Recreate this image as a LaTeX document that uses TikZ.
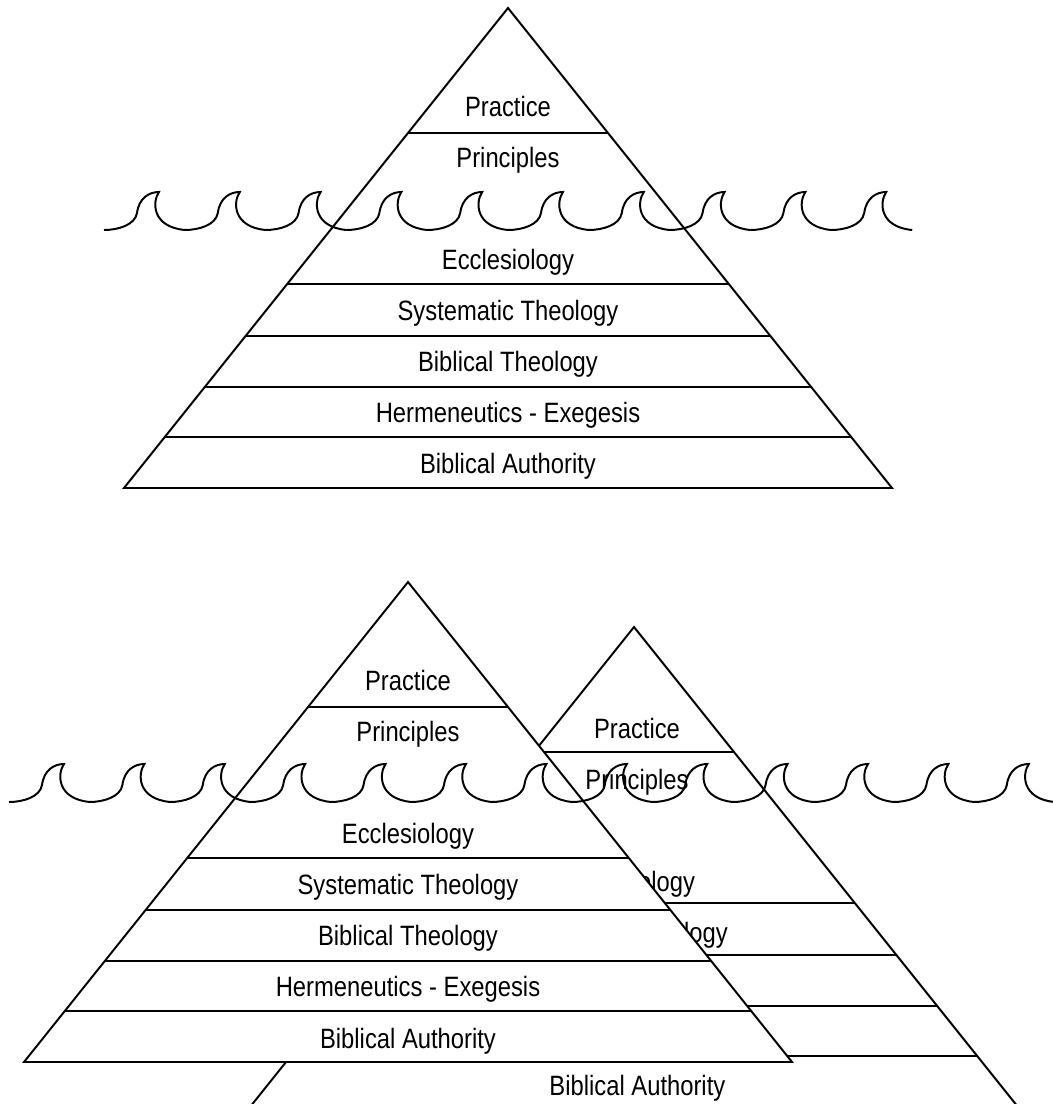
\documentclass[tikz,border=0pt]{standalone}
\usepackage{fontspec}
\setmainfont{Liberation Sans}[FakeStretch=0.85]
\usetikzlibrary{positioning}

\begin{document}
\begin{tikzpicture}[
		x=0.025cm, y=-0.025cm,
		line width=1.4pt,
		node distance=0.775cm,
		layer/.style={font=\fontsize{19.9}{24}\selectfont, inner sep=0pt, outer sep=0pt, text height=0.5cm, text depth=0pt},
		pyramid/.pic={
			\filldraw[fill=white] (0,0) -- (384,480) -- (-384,480) -- cycle;
			\draw (-100,125) -- (100,125);
			\draw (-220.8,276) -- (220.8,276);
			\draw (-262.4,328) -- (262.4,328);
			\draw (-303.2,379) -- (303.2,379);
			\draw (-343.2,429) -- (343.2,429);
		},
		wave/.pic={
			\draw (0,0) .. controls (14,0) and (31,-5) .. (33,-17)
				.. controls (35,-32) and (45,-38) .. (55,-38)
				.. controls (48,-28) and (48,-3) .. (81,0);
		}
	]
	\useasboundingbox (0,0) rectangle (1052,1104);

	% Top pyramid
	\pic at (508,8) {pyramid};
	\node[layer] (tPractice) at (508,106.5) {Practice};
	\node[layer, below=of tPractice] (tPrinciples) {Principles};
	\node[layer, below=2.06cm of tPrinciples] (tEccl) {Ecclesiology};
	\node[layer, below=of tEccl] (tSyst) {Systematic Theology};
	\node[layer, below=of tSyst] (tBibl) {Biblical Theology};
	\node[layer, below=of tBibl] (tHerm) {Hermeneutics - Exegesis};
	\node[layer, below=of tHerm] (tAuth) {Biblical Authority};

	% Waterline
	\foreach \i in {0,...,9}
		\pic at ({104+80.8*\i},230) {wave};

	% Back pyramid
	\pic at (634,627) {pyramid};
	\node[layer] (bPractice) at (637,728) {Practice};
	\node[layer, below=of bPractice] (bPrinciples) {Principles};
	\node[layer, below=2.06cm of bPrinciples, xshift=-0.2cm] (bEccl) {Ecclesiology};
	\node[layer, below=of bEccl, xshift=-0.29cm] (bSyst) {Systematic Theology};
	\node[layer, below=of bSyst, xshift=0.4cm] (bBibl) {Biblical Theology};
	\node[layer, below=of bBibl] (bHerm) {Hermeneutics - Exegesis};
	\node[layer, below=of bHerm, xshift=0.1cm] (bAuth) {Biblical Authority};

	% Front pyramid
	\pic at (408,582) {pyramid};
	\node[layer] (fPractice) at (408,680.5) {Practice};
	\node[layer, below=of fPractice] (fPrinciples) {Principles};
	\node[layer, below=2.06cm of fPrinciples] (fEccl) {Ecclesiology};
	\node[layer, below=of fEccl] (fSyst) {Systematic Theology};
	\node[layer, below=of fSyst] (fBibl) {Biblical Theology};
	\node[layer, below=of fBibl] (fHerm) {Hermeneutics - Exegesis};
	\node[layer, below=of fHerm] (fAuth) {Biblical Authority};

	% Waterline
	\foreach \i in {0,...,12}
		\pic at ({9+80.4*\i},802) {wave};

\end{tikzpicture}
\end{document}
